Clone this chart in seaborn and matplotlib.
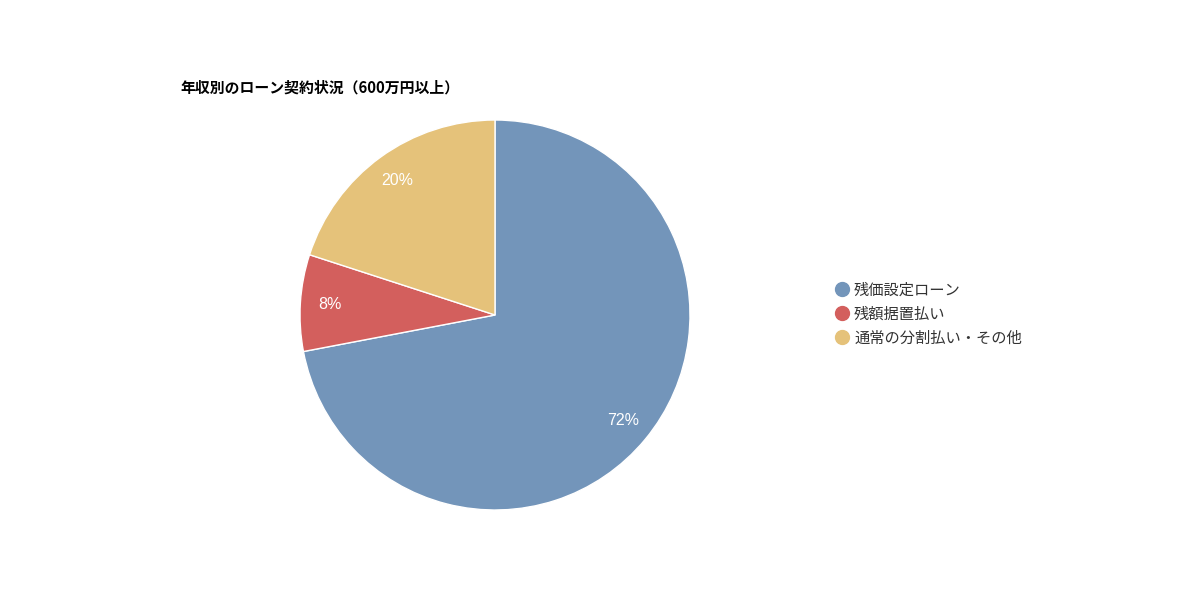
import matplotlib
matplotlib.use("Agg")
import matplotlib.pyplot as plt
from matplotlib.lines import Line2D
import seaborn as sns

# data
labels = ["残価設定ローン", "残額据置払い", "通常の分割払い・その他"]
shares = [72, 8, 20]
colors = ["#7395BA", "#D35F5D", "#E5C27A"]
title = "年収別のローン契約状況（600万円以上）"

sns.set_theme(style="white")
plt.rcParams["font.family"] = ["Noto Sans CJK JP", "DejaVu Sans"]

fig = plt.figure(figsize=(12, 6), dpi=100)
ax = fig.add_axes([0.25, 0.15, 0.325, 0.65])

wedges, texts, autotexts = ax.pie(
    shares, colors=colors, startangle=90, counterclock=False,
    autopct="%d%%", pctdistance=0.85,
    wedgeprops=dict(edgecolor="white", linewidth=1),
    textprops=dict(color="white", fontsize=11.5, family=["Liberation Sans", "DejaVu Sans"]),
)
ax.set_xlim(-1, 1)
ax.set_ylim(-1, 1)
ax.set_aspect("equal")

fig.text(180 / 1200, 1 - 88 / 600, title, fontsize=10.7, fontweight="bold",
         color="black", ha="left", va="center")

handles = [Line2D([0], [0], marker="o", linestyle="none", markersize=10,
                  markerfacecolor=c, markeredgecolor=c) for c in colors]
leg = fig.legend(handles, labels, loc="center left",
                 bbox_to_anchor=(819 / 1200, 1 - 314 / 600), frameon=False,
                 fontsize=11, handletextpad=0.2, labelspacing=0.45,
                 handlelength=1.2)
for t in leg.get_texts():
    t.set_color("#333333")

fig.savefig("out.png", dpi=100)
